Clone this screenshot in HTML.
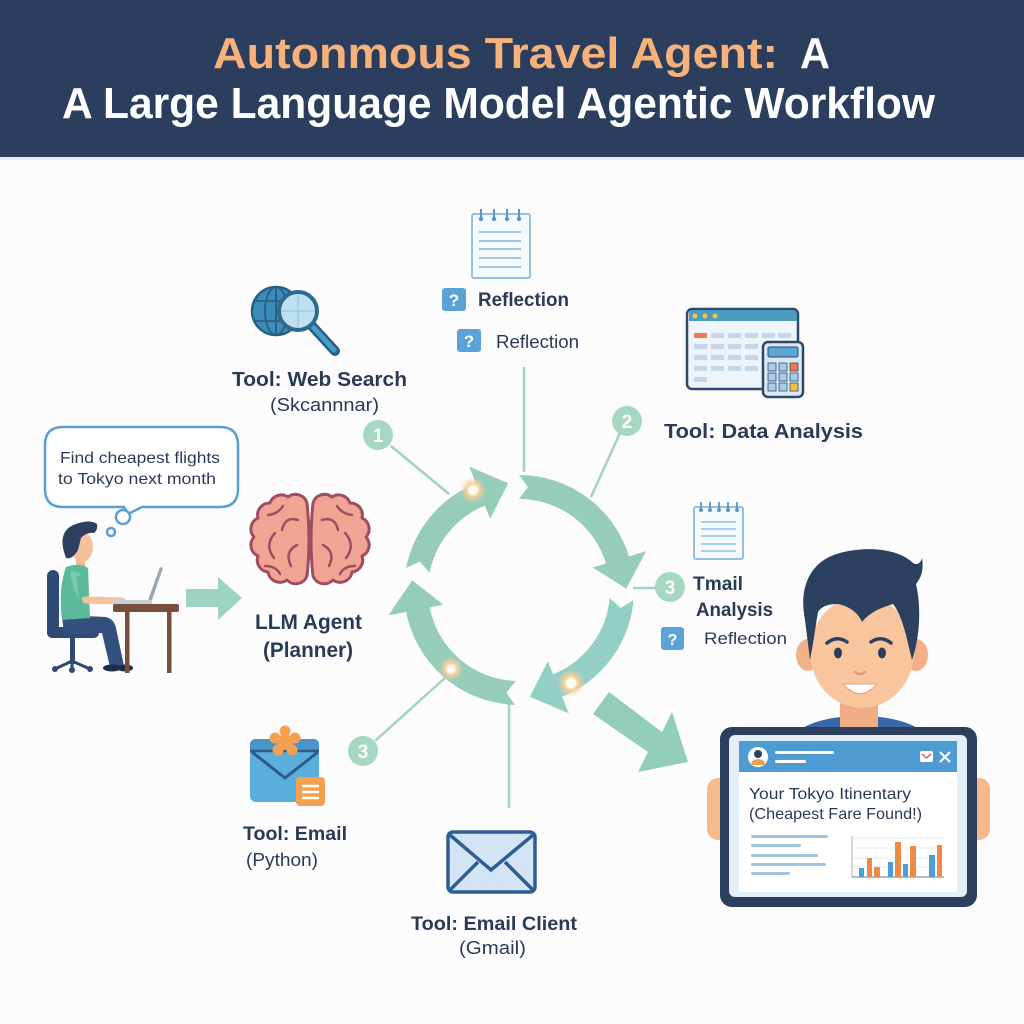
<!DOCTYPE html>
<html><head><meta charset="utf-8"><style>
html,body{margin:0;padding:0;background:#fcfcfd;}
body{width:1024px;height:1024px;overflow:hidden;}
svg{display:block;}
</style></head><body>
<svg width="1024" height="1024" viewBox="0 0 1024 1024" xmlns="http://www.w3.org/2000/svg" font-family="Liberation Sans, Arial, sans-serif">
<defs>
<radialGradient id="glow">
<stop offset="0" stop-color="#ffffff"/>
<stop offset="0.3" stop-color="#fffaf2"/>
<stop offset="0.5" stop-color="#f9cf98" stop-opacity="0.95"/>
<stop offset="1" stop-color="#f9cf98" stop-opacity="0"/>
</radialGradient>
</defs>
<rect x="0" y="0" width="1024" height="1024" fill="#fcfcfd"/>
<!-- Title banner -->
<rect x="0" y="0" width="1024" height="157" fill="#2b3e5e"/>
<rect x="0" y="157" width="1024" height="3" fill="#e6eaef"/>
<text x="213" y="68" font-size="44" font-weight="bold" fill="#f6b27a" textLength="565" lengthAdjust="spacingAndGlyphs">Autonmous Travel Agent:</text>
<text x="800" y="68" font-size="44" font-weight="bold" fill="#ffffff" textLength="30" lengthAdjust="spacingAndGlyphs">A</text>
<text x="62" y="118" font-size="44" font-weight="bold" fill="#ffffff" textLength="873" lengthAdjust="spacingAndGlyphs">A Large Language Model Agentic Workflow</text>

<!-- connector lines -->
<g stroke="#9fd4c0" stroke-width="2.5" fill="none">
<line x1="391" y1="446" x2="449" y2="494"/>
<line x1="524" y1="367" x2="524" y2="472"/>
<line x1="620" y1="433" x2="591" y2="497"/>
<line x1="633" y1="588" x2="656" y2="588"/>
<line x1="375" y1="741" x2="446" y2="677"/>
<line x1="509" y1="704" x2="509" y2="808"/>
</g>

<!-- cycle ring -->
<g fill="none" stroke-width="24">
<circle cx="519" cy="590" r="103" stroke="#95cdb9" stroke-dasharray="104 1000" transform="rotate(191 519 590)"/>
<circle cx="519" cy="590" r="103" stroke="#95cdb9" stroke-dasharray="133 1000" transform="rotate(-90 519 590)"/>
<circle cx="519" cy="590" r="103" stroke="#93cfc5" stroke-dasharray="115 1000" transform="rotate(5 519 590)"/>
<circle cx="519" cy="590" r="103" stroke="#95cdb9" stroke-dasharray="140 1000" transform="rotate(92 519 590)"/>
</g>
<g>
<polygon points="519,457 519,513 549,487" fill="#95cdb9" transform="rotate(338 519 590)"/>
<polygon points="519,457 519,513 549,487" fill="#95cdb9" transform="rotate(73 519 590)"/>
<polygon points="519,457 519,513 549,487" fill="#93cfc5" transform="rotate(158 519 590)"/>
<polygon points="519,457 519,513 549,487" fill="#95cdb9" transform="rotate(259 519 590)"/>
<polygon points="516,471 528,487 516,503" fill="#fcfcfd" transform="rotate(281 519 590)"/>
<polygon points="516,471 528,487 516,503" fill="#fcfcfd" transform="rotate(0 519 590)"/>
<polygon points="516,471 528,487 516,503" fill="#fcfcfd" transform="rotate(95 519 590)"/>
<polygon points="516,471 528,487 516,503" fill="#fcfcfd" transform="rotate(182 519 590)"/>
</g>
<circle cx="473" cy="490" r="13" fill="url(#glow)"/>
<circle cx="451" cy="669" r="12" fill="url(#glow)"/>
<circle cx="571" cy="683" r="14" fill="url(#glow)"/>

<!-- number circles -->
<g font-size="19" font-weight="bold" fill="#ffffff" text-anchor="middle">
<circle cx="378" cy="435" r="15" fill="#a6d7c3"/><text x="378" y="442">1</text>
<circle cx="627" cy="421" r="15" fill="#a6d7c3"/><text x="627" y="428">2</text>
<circle cx="670" cy="587" r="15" fill="#a6d7c3"/><text x="670" y="594">3</text>
<circle cx="363" cy="751" r="15" fill="#a6d7c3"/><text x="363" y="758">3</text>
</g>

<!-- left arrow -->
<polygon points="186,589 218,589 218,577 242,598 218,620 218,607 186,607" fill="#9dd4bf"/>
<!-- big arrow -->
<polygon points="609,692 662,732 672,712 688,762 638,772 648,752 593,714" fill="#92cdb9"/>

<!-- speech bubble -->
<path d="M63,427 H220 Q238,427 238,445 V489 Q238,507 220,507 H142 L128,514 L124,507 H63 Q45,507 45,489 V445 Q45,427 63,427 Z" fill="#ffffff" stroke="#5b9fd0" stroke-width="2.5"/>
<circle cx="123" cy="517" r="7" fill="#ffffff" stroke="#5b9fd0" stroke-width="2.5"/>
<circle cx="111" cy="532" r="4" fill="#ffffff" stroke="#5b9fd0" stroke-width="2.5"/>
<text x="60" y="463" font-size="16" fill="#2b3a55" textLength="160" lengthAdjust="spacingAndGlyphs">Find cheapest flights</text>
<text x="58" y="484" font-size="16" fill="#2b3a55" textLength="158" lengthAdjust="spacingAndGlyphs">to Tokyo next month</text>

<!-- seated person -->
<g>
<rect x="47" y="570" width="12" height="68" rx="6" fill="#2f4a73"/>
<rect x="47" y="627" width="52" height="11" rx="5" fill="#2f4a73"/>
<rect x="70" y="637" width="5" height="27" fill="#2f4a73"/>
<path d="M55,669 L72,661 L90,669 M72,661 L72,670" stroke="#2f4a73" stroke-width="3" fill="none"/>
<circle cx="55" cy="669" r="3" fill="#2f4a73"/><circle cx="72" cy="670" r="3" fill="#2f4a73"/><circle cx="90" cy="669" r="3" fill="#2f4a73"/>
<path d="M62,615 L106,617 Q114,619 116,628 L124,666 L110,667 L102,633 L64,635 Z" fill="#34507e"/>
<ellipse cx="112" cy="668" rx="9" ry="3.5" fill="#1f2f48"/>
<ellipse cx="125" cy="668" rx="8" ry="3.5" fill="#1f2f48"/>
<rect x="76" y="556" width="9" height="13" fill="#f2b890"/>
<path d="M66,567 Q80,562 88,568 L90,618 L62,620 Q58,590 66,567 Z" fill="#5bba9b"/>
<path d="M70,572 Q80,570 84,580 L86,596 L78,598 Q72,585 70,572 Z" fill="#78c9ad"/>
<polyline points="80,582 86,600 122,601" fill="none" stroke="#f5c09a" stroke-width="7" stroke-linejoin="round" stroke-linecap="round"/>
<path d="M76,576 Q84,574 87,586 L89,596 L79,598 Z" fill="#5bba9b"/>
<ellipse cx="82" cy="547" rx="11" ry="15" fill="#f5c09a"/>
<path d="M64,552 Q58,530 76,524 Q90,519 97,524 Q98,530 94,533 Q86,532 81,538 L78,550 Q72,560 66,558 Z" fill="#2d4060"/>
<rect x="113" y="604" width="66" height="8" rx="2" fill="#7a4e3c"/>
<rect x="125" y="611" width="4.5" height="62" fill="#7a4e3c"/>
<rect x="167" y="611" width="4.5" height="62" fill="#7a4e3c"/>
<polygon points="147,603 151,603 163,568 160,567" fill="#9aa6b4"/>
<rect x="113" y="600" width="39" height="4" rx="1" fill="#c7cfd8"/>
</g>

<!-- brain -->
<g id="hemi" fill="#f2a393" stroke="#9c4f61" stroke-width="3" stroke-linejoin="round">
<path d="M307,503 A12,12 0 0 0 288,497 A12,12 0 0 0 270,503 A12,12 0 0 0 258,518 A12,12 0 0 0 254,537 A12,12 0 0 0 258,556 A12,12 0 0 0 268,572 A12,12 0 0 0 287,580 A12,12 0 0 0 307,576 Q311,540 307,503 Z"/>
<g fill="none" stroke-width="2.5" stroke-linecap="round">
<path d="M298,520 Q285,516 282,530"/>
<path d="M275,533 Q264,545 274,558"/>
<path d="M297,545 Q284,552 291,566"/>
<path d="M283,506 Q278,514 268,515"/>
<path d="M265,566 Q276,566 280,574"/>
</g>
</g>
<g transform="translate(620,0) scale(-1,1)">
<path d="M307,503 A12,12 0 0 0 288,497 A12,12 0 0 0 270,503 A12,12 0 0 0 258,518 A12,12 0 0 0 254,537 A12,12 0 0 0 258,556 A12,12 0 0 0 268,572 A12,12 0 0 0 287,580 A12,12 0 0 0 307,576 Q311,540 307,503 Z" fill="#f2a393" stroke="#9c4f61" stroke-width="3" stroke-linejoin="round"/>
<g fill="none" stroke="#9c4f61" stroke-width="2.5" stroke-linecap="round">
<path d="M298,520 Q285,516 282,530"/>
<path d="M275,533 Q264,545 274,558"/>
<path d="M297,545 Q284,552 291,566"/>
<path d="M283,506 Q278,514 268,515"/>
<path d="M265,566 Q276,566 280,574"/>
</g>
</g>
<text x="255" y="629" font-size="21" font-weight="bold" fill="#2b3a55" textLength="107" lengthAdjust="spacingAndGlyphs">LLM Agent</text>
<text x="263" y="657" font-size="21" font-weight="bold" fill="#2b3a55" textLength="90" lengthAdjust="spacingAndGlyphs">(Planner)</text>

<!-- web search icon -->
<g>
<circle cx="276" cy="311" r="24" fill="#3a8cba" stroke="#2a5f85" stroke-width="2.5"/>
<ellipse cx="276" cy="311" rx="11" ry="24" fill="none" stroke="#2a5f85" stroke-width="1.8"/>
<line x1="276" y1="287" x2="276" y2="335" stroke="#2a5f85" stroke-width="1.8"/>
<line x1="254" y1="301" x2="298" y2="301" stroke="#2a5f85" stroke-width="1.8"/>
<line x1="254" y1="321" x2="298" y2="321" stroke="#2a5f85" stroke-width="1.8"/>
<line x1="312" y1="326" x2="335" y2="351" stroke="#2a5f85" stroke-width="10" stroke-linecap="round"/>
<line x1="313" y1="327" x2="334" y2="350" stroke="#4a9ccb" stroke-width="5" stroke-linecap="round"/>
<circle cx="298" cy="311" r="19" fill="#bfe0f0" stroke="#2d6a90" stroke-width="4"/>
<line x1="298" y1="294" x2="298" y2="328" stroke="#9ccbe3" stroke-width="1.5"/>
<line x1="281" y1="311" x2="315" y2="311" stroke="#9ccbe3" stroke-width="1.5"/>
</g>
<text x="232" y="386" font-size="20" font-weight="bold" fill="#2b3a55" textLength="175" lengthAdjust="spacingAndGlyphs">Tool: Web Search</text>
<text x="270" y="411" font-size="18" fill="#2b3a55" textLength="109" lengthAdjust="spacingAndGlyphs">(Skcannnar)</text>

<!-- notepad top -->
<g>
<rect x="472" y="214" width="58" height="64" rx="2" fill="#f5f9fd" stroke="#92bfe2" stroke-width="2"/>
<g stroke="#92bfe2" stroke-width="1.8"><line x1="479" y1="232" x2="521" y2="232"/><line x1="479" y1="241" x2="521" y2="241"/><line x1="479" y1="249" x2="521" y2="249"/><line x1="479" y1="258" x2="521" y2="258"/><line x1="479" y1="267" x2="521" y2="267"/></g>
<g stroke="#5a95c5" stroke-width="2"><line x1="481" y1="209" x2="481" y2="219"/><line x1="494" y1="209" x2="494" y2="219"/><line x1="507" y1="209" x2="507" y2="219"/><line x1="519" y1="209" x2="519" y2="219"/></g>
<g fill="#5a95c5"><circle cx="481" cy="219" r="2.2"/><circle cx="494" cy="219" r="2.2"/><circle cx="507" cy="219" r="2.2"/><circle cx="519" cy="219" r="2.2"/></g>
</g>
<rect x="442" y="288" width="24" height="23" rx="3" fill="#5ba3d6"/>
<text x="454" y="306" font-size="17" font-weight="bold" fill="#ffffff" text-anchor="middle">?</text>
<text x="478" y="306" font-size="19" font-weight="bold" fill="#2b3a55" textLength="91" lengthAdjust="spacingAndGlyphs">Reflection</text>
<rect x="457" y="329" width="24" height="23" rx="3" fill="#5ba3d6"/>
<text x="469" y="347" font-size="17" font-weight="bold" fill="#ffffff" text-anchor="middle">?</text>
<text x="496" y="348" font-size="18" fill="#2b3a55" textLength="83" lengthAdjust="spacingAndGlyphs">Reflection</text>

<!-- data analysis icon -->
<g>
<rect x="687" y="309" width="111" height="80" rx="5" fill="#eef4fa" stroke="#2d4a6b" stroke-width="2.5"/>
<path d="M689,321 V314 Q689,310 693,310 H792 Q797,310 797,314 V321 Z" fill="#4a9cc0"/>
<circle cx="695" cy="316" r="2.5" fill="#f5c842"/><circle cx="705" cy="316" r="2.5" fill="#f5c842"/><circle cx="715" cy="316" r="2.5" fill="#f5c842"/>
<g fill="#c5d8ea">
<rect x="694" y="333" width="13" height="5" fill="#f07a4a"/><rect x="711" y="333" width="13" height="5"/><rect x="728" y="333" width="13" height="5"/><rect x="745" y="333" width="13" height="5"/><rect x="762" y="333" width="13" height="5"/><rect x="778" y="333" width="13" height="5"/>
<rect x="694" y="344" width="13" height="5"/><rect x="711" y="344" width="13" height="5"/><rect x="728" y="344" width="13" height="5"/><rect x="745" y="344" width="13" height="5"/>
<rect x="694" y="355" width="13" height="5"/><rect x="711" y="355" width="13" height="5"/><rect x="728" y="355" width="13" height="5"/><rect x="745" y="355" width="13" height="5"/>
<rect x="694" y="366" width="13" height="5"/><rect x="711" y="366" width="13" height="5"/><rect x="728" y="366" width="13" height="5"/><rect x="745" y="366" width="13" height="5"/>
<rect x="694" y="377" width="13" height="5"/>
</g>
<rect x="763" y="342" width="40" height="55" rx="5" fill="#dbe8f4" stroke="#2d4a6b" stroke-width="2.5"/>
<rect x="768" y="347" width="30" height="10" rx="1.5" fill="#5aa7cf" stroke="#2d4a6b" stroke-width="1"/>
<g fill="#a8cde8" stroke="#2d4a6b" stroke-width="0.8">
<rect x="768" y="363" width="8" height="8"/><rect x="779" y="363" width="8" height="8"/><rect x="790" y="363" width="8" height="8" fill="#f07a4a"/>
<rect x="768" y="373" width="8" height="8"/><rect x="779" y="373" width="8" height="8"/><rect x="790" y="373" width="8" height="8"/>
<rect x="768" y="383" width="8" height="8"/><rect x="779" y="383" width="8" height="8"/><rect x="790" y="383" width="8" height="8" fill="#f5c040"/>
</g>
</g>
<text x="664" y="438" font-size="20" font-weight="bold" fill="#2b3a55" textLength="199" lengthAdjust="spacingAndGlyphs">Tool: Data Analysis</text>

<!-- notepad right -->
<g>
<rect x="694" y="507" width="49" height="52" rx="2" fill="#f5f9fd" stroke="#92bfe2" stroke-width="2"/>
<g stroke="#92bfe2" stroke-width="1.6"><line x1="701" y1="522" x2="736" y2="522"/><line x1="701" y1="529" x2="736" y2="529"/><line x1="701" y1="536" x2="736" y2="536"/><line x1="701" y1="544" x2="736" y2="544"/><line x1="701" y1="551" x2="736" y2="551"/></g>
<g stroke="#5a95c5" stroke-width="1.8"><line x1="701" y1="502" x2="701" y2="510"/><line x1="710" y1="502" x2="710" y2="510"/><line x1="719" y1="502" x2="719" y2="510"/><line x1="728" y1="502" x2="728" y2="510"/><line x1="737" y1="502" x2="737" y2="510"/></g>
<g fill="#5a95c5"><circle cx="701" cy="510" r="2"/><circle cx="710" cy="510" r="2"/><circle cx="719" cy="510" r="2"/><circle cx="728" cy="510" r="2"/><circle cx="737" cy="510" r="2"/></g>
</g>
<text x="693" y="590" font-size="19" font-weight="bold" fill="#2b3a55" textLength="50" lengthAdjust="spacingAndGlyphs">Tmail</text>
<text x="696" y="616" font-size="19" font-weight="bold" fill="#2b3a55" textLength="77" lengthAdjust="spacingAndGlyphs">Analysis</text>
<rect x="661" y="627" width="23" height="23" rx="3" fill="#5ba3d6"/>
<text x="672.5" y="645" font-size="16" font-weight="bold" fill="#ffffff" text-anchor="middle">?</text>
<text x="704" y="644" font-size="17" fill="#2b3a55" textLength="83" lengthAdjust="spacingAndGlyphs">Reflection</text>

<!-- email (python) icon -->
<g>
<rect x="250" y="739" width="69" height="63" rx="6" fill="#5aaedc"/>
<path d="M250,751 V745 Q250,739 256,739 H313 Q319,739 319,745 V751 Z" fill="#4a95c8"/>
<polyline points="252,752 285,778 318,752" fill="none" stroke="#2d5a8a" stroke-width="3"/>
<line x1="250" y1="751" x2="319" y2="751" stroke="#2d5a8a" stroke-width="2.5"/>
<g fill="#f5a050">
<circle cx="285" cy="742" r="8"/>
<circle cx="285" cy="731" r="5.5"/><circle cx="295" cy="738" r="5.5"/><circle cx="292" cy="750" r="5.5"/><circle cx="278" cy="750" r="5.5"/><circle cx="275" cy="738" r="5.5"/>
</g>
<rect x="296" y="777" width="29" height="29" rx="4" fill="#f3a04f"/>
<g stroke="#ffffff" stroke-width="2.5"><line x1="302" y1="786" x2="319" y2="786"/><line x1="302" y1="792" x2="319" y2="792"/><line x1="302" y1="798" x2="319" y2="798"/></g>
</g>
<text x="243" y="840" font-size="19" font-weight="bold" fill="#2b3a55" textLength="104" lengthAdjust="spacingAndGlyphs">Tool: Email</text>
<text x="246" y="866" font-size="18" fill="#2b3a55" textLength="72" lengthAdjust="spacingAndGlyphs">(Python)</text>

<!-- gmail envelope -->
<g>
<rect x="448" y="832" width="87" height="60" rx="5" fill="#d3e5f5" stroke="#2e5d94" stroke-width="3.5"/>
<polyline points="450,835 491,870 533,835" fill="none" stroke="#2e5d94" stroke-width="3.5"/>
<line x1="450" y1="890" x2="478" y2="862" stroke="#2e5d94" stroke-width="3.5"/>
<line x1="533" y1="890" x2="505" y2="862" stroke="#2e5d94" stroke-width="3.5"/>
</g>
<text x="411" y="930" font-size="19" font-weight="bold" fill="#2b3a55" textLength="166" lengthAdjust="spacingAndGlyphs">Tool: Email Client</text>
<text x="459" y="954" font-size="18" fill="#2b3a55" textLength="67" lengthAdjust="spacingAndGlyphs">(Gmail)</text>

<!-- right person -->
<g>
<ellipse cx="860" cy="738" rx="64" ry="22" fill="#3a68a8"/>
<rect x="840" y="696" width="38" height="34" fill="#f0ad85"/>
<ellipse cx="808" cy="655" rx="12" ry="16" fill="#f3b088"/>
<ellipse cx="916" cy="655" rx="12" ry="16" fill="#f3b088"/>
<ellipse cx="862" cy="652" rx="52" ry="56" fill="#f8c59c"/>
<path d="M810,660 L805,620 C798,585 812,560 840,553 C870,545 900,550 913,563 C918,566 921,562 922,558 C924,570 921,578 916,584 C922,610 919,640 912,660 L906,635 C902,620 898,610 893,604 C880,608 870,612 862,622 C858,612 848,606 838,604 C828,604 822,606 818,612 C815,630 813,645 810,660 Z" fill="#2c4060"/>
<path d="M827,643 Q837,635 847,642" fill="none" stroke="#2c4060" stroke-width="3.5" stroke-linecap="round"/>
<path d="M871,642 Q881,635 891,643" fill="none" stroke="#2c4060" stroke-width="3.5" stroke-linecap="round"/>
<ellipse cx="838" cy="653" rx="4" ry="5.5" fill="#2c3e5c"/>
<ellipse cx="882" cy="653" rx="4" ry="5.5" fill="#2c3e5c"/>
<path d="M855,672 Q860,676 865,672" fill="none" stroke="#e8967a" stroke-width="2.5" stroke-linecap="round"/>
<path d="M843,684 Q860,703 877,684 Z" fill="#ffffff" stroke="#eaa088" stroke-width="1"/>
</g>

<!-- tablet -->
<g>
<rect x="707" y="778" width="25" height="62" rx="11" fill="#f5b98a"/>
<rect x="965" y="778" width="25" height="62" rx="11" fill="#f5b98a"/>
<rect x="720" y="727" width="257" height="180" rx="12" fill="#2c3f5f"/>
<rect x="729" y="735" width="238" height="162" rx="6" fill="#e4eef8"/>
<rect x="739" y="741" width="218" height="151" fill="#ffffff"/>
<rect x="739" y="741" width="218" height="31" fill="#4d9bd0"/>
<circle cx="758" cy="757" r="10" fill="#ffffff"/>
<circle cx="758" cy="754" r="4" fill="#2c4060"/>
<path d="M751,762 Q758,756 765,762 L764,765 H752 Z" fill="#f0a050"/>
<rect x="775" y="751" width="59" height="3" rx="1.5" fill="#ffffff"/>
<rect x="775" y="760" width="31" height="3" rx="1.5" fill="#ffffff"/>
<rect x="920" y="751" width="13" height="11" rx="2" fill="#ffffff"/>
<polyline points="922,754 926.5,758 931,754" fill="none" stroke="#c0504d" stroke-width="1.2"/>
<g stroke="#ffffff" stroke-width="2"><line x1="940" y1="752" x2="950" y2="762"/><line x1="950" y1="752" x2="940" y2="762"/></g>
<text x="749" y="799" font-size="16" fill="#2b3a55" textLength="162" lengthAdjust="spacingAndGlyphs">Your Tokyo Itinentary</text>
<text x="749" y="819" font-size="16" fill="#2b3a55" textLength="173" lengthAdjust="spacingAndGlyphs">(Cheapest Fare Found!)</text>
<g fill="#9cc5e5">
<rect x="751" y="835" width="77" height="3" rx="1.5"/>
<rect x="751" y="844" width="50" height="3" rx="1.5"/>
<rect x="751" y="854" width="67" height="3" rx="1.5"/>
<rect x="751" y="863" width="75" height="3" rx="1.5"/>
<rect x="751" y="872" width="39" height="3" rx="1.5"/>
</g>
<g stroke="#dde5ee" stroke-width="0.8"><line x1="852" y1="838" x2="944" y2="838"/><line x1="852" y1="848" x2="944" y2="848"/><line x1="852" y1="858" x2="944" y2="858"/><line x1="852" y1="867" x2="944" y2="867"/></g>
<line x1="852" y1="836" x2="852" y2="877" stroke="#9aa4b0" stroke-width="0.8"/>
<line x1="852" y1="877" x2="944" y2="877" stroke="#6d7785" stroke-width="1"/>
<g fill="#4a9fd5">
<rect x="859" y="868" width="5" height="9"/><rect x="888" y="862" width="5" height="15"/><rect x="903" y="864" width="5" height="13"/><rect x="929" y="855" width="6" height="22"/>
</g>
<g fill="#ee8a45">
<rect x="867" y="858" width="5" height="19"/><rect x="874" y="867" width="6" height="10"/><rect x="895" y="842" width="6" height="35"/><rect x="910" y="846" width="6" height="31"/><rect x="937" y="845" width="5" height="32"/>
</g>
</g>
</svg>
</body></html>
